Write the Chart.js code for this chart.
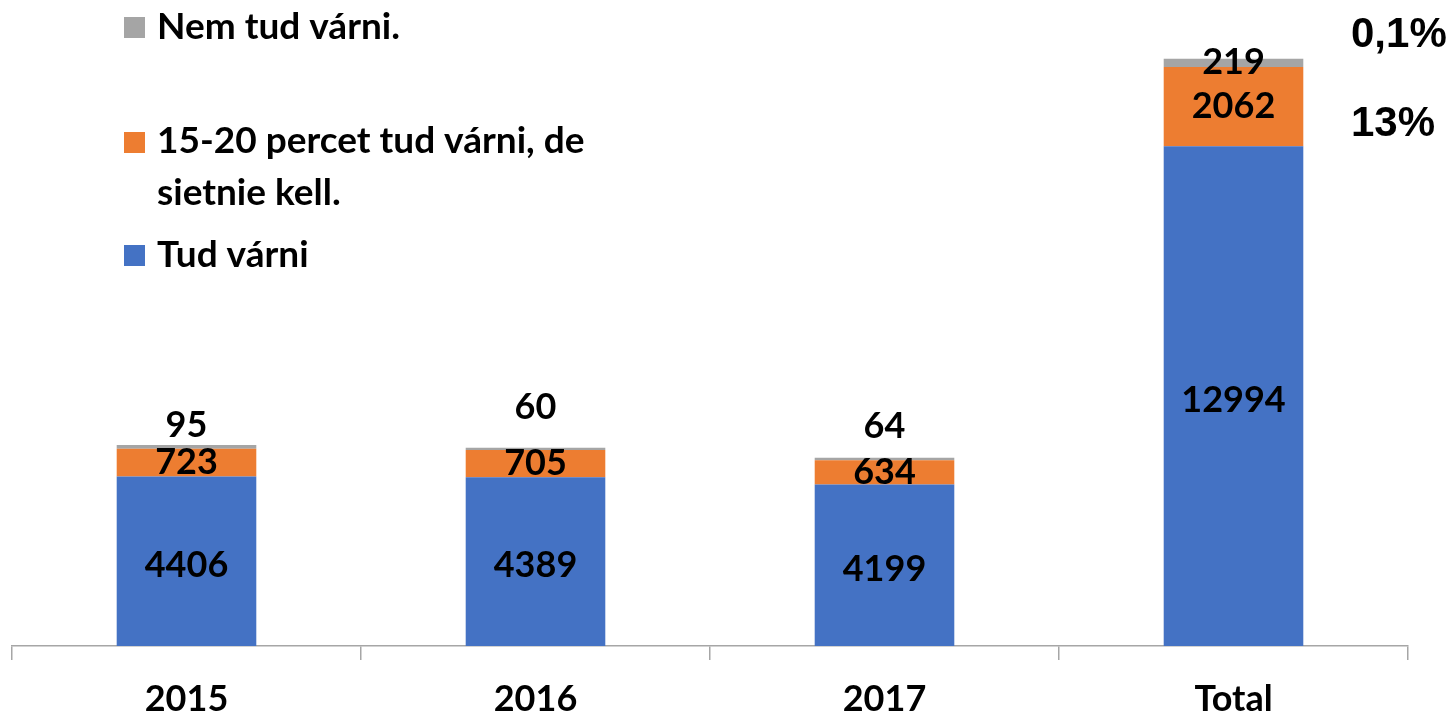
<!DOCTYPE html>
<html>
<head>
<meta charset="utf-8">
<script src="https://cdn.jsdelivr.net/npm/chart.js@4.4.1/dist/chart.umd.min.js"></script>
<style>
  html, body { margin: 0; padding: 0; background: #fff; }
  #wrap { width: 1452px; height: 718px; }
</style>
</head>
<body>
<div id="wrap"><canvas id="varniChart" width="1452" height="718"></canvas></div>
<script>
// Stacked counts per year plus the overall total
const categories = ['2015', '2016', '2017', 'Total'];
const tudVarni = [4406, 4389, 4199, 12994];
const sietnieKell = [723, 705, 634, 2062];
const nemTudVarni = [95, 60, 64, 219];

const seriesNames = ['Tud várni', '15-20 percet tud várni, de sietnie kell.', 'Nem tud várni.'];
const shareLabels = ['0,1%', '13%'];

const FONT = 'Lato, "Open Sans", sans-serif';
const colors = ['#4472C4', '#ED7D31', '#A5A5A5'];

// the small grey counts sit above the bar, except on the total bar
const greyLift = [22, 42, 33, 0];

// Value labels inside / above each segment
const segmentLabels = {
    id: 'segmentLabels',
    afterDatasetsDraw(chart) {
        const ctx = chart.ctx;
        ctx.save();
        ctx.font = 'bold 36px ' + FONT;
        ctx.fillStyle = '#000';
        ctx.textAlign = 'center';
        ctx.textBaseline = 'middle';
        chart.data.datasets.forEach((ds, di) => {
            const meta = chart.getDatasetMeta(di);
            meta.data.forEach((bar, i) => {
                let y = (bar.y + bar.base) / 2;
                if (di === 0) y += 4;
                if (di === 2) y -= greyLift[i];
                ctx.fillText(String(ds.data[i]), bar.x, y);
            });
        });
        ctx.restore();
    }
};

// Legend block at the top left and the share notes on the right
const sideNotes = {
    id: 'sideNotes',
    afterDraw(chart) {
        const ctx = chart.ctx;
        ctx.save();
        ctx.fillStyle = '#000';
        ctx.font = 'bold 37px ' + FONT;
        ctx.textAlign = 'left';
        ctx.textBaseline = 'alphabetic';

        const rows = [
            { color: colors[2], square: 17, lines: [[seriesNames[2], 39]] },
            { color: colors[1], square: 132, lines: [['15-20 percet tud várni, de', 153], ['sietnie kell.', 205]] },
            { color: colors[0], square: 245, lines: [[seriesNames[0], 267]] }
        ];
        rows.forEach(r => {
            ctx.fillStyle = r.color;
            ctx.fillRect(124, r.square, 21, 21);
            ctx.fillStyle = '#000';
            r.lines.forEach(([txt, y]) => ctx.fillText(txt, 157, y));
        });

        ctx.font = 'bold 42px "Liberation Sans", Arial, sans-serif';
        ctx.fillText(shareLabels[0], 1351, 47);
        ctx.fillText(shareLabels[1], 1351, 136);
        ctx.restore();
    }
};

const ctx = document.getElementById('varniChart').getContext('2d');

new Chart(ctx, {
    type: 'bar',
    data: {
        labels: categories,
        datasets: [
            { label: seriesNames[0], data: tudVarni, backgroundColor: colors[0] },
            { label: seriesNames[1], data: sietnieKell, backgroundColor: colors[1] },
            { label: seriesNames[2], data: nemTudVarni, backgroundColor: colors[2] }
        ]
    },
    options: {
        responsive: false,
        animation: false,
        layout: { padding: { left: 12, right: 44, top: 0, bottom: 0 } },
        datasets: {
            bar: { categoryPercentage: 1, barPercentage: 0.4, borderWidth: 0 }
        },
        scales: {
            x: {
                stacked: true,
                grid: {
                    offset: true,
                    drawOnChartArea: false,
                    drawTicks: true,
                    tickLength: 14,
                    color: '#A6A6A6',
                    lineWidth: 1.5
                },
                border: { display: true, color: '#A6A6A6', width: 1.5 },
                ticks: {
                    color: '#000',
                    padding: 18,
                    font: { family: FONT, size: 36, weight: 'bold' }
                },
                afterFit(scale) { scale.height = 72; }
            },
            y: {
                stacked: true,
                display: false,
                min: 0,
                max: 16800
            }
        },
        plugins: {
            legend: { display: false },
            tooltip: { enabled: false }
        }
    },
    plugins: [segmentLabels, sideNotes]
});
</script>
</body>
</html>
